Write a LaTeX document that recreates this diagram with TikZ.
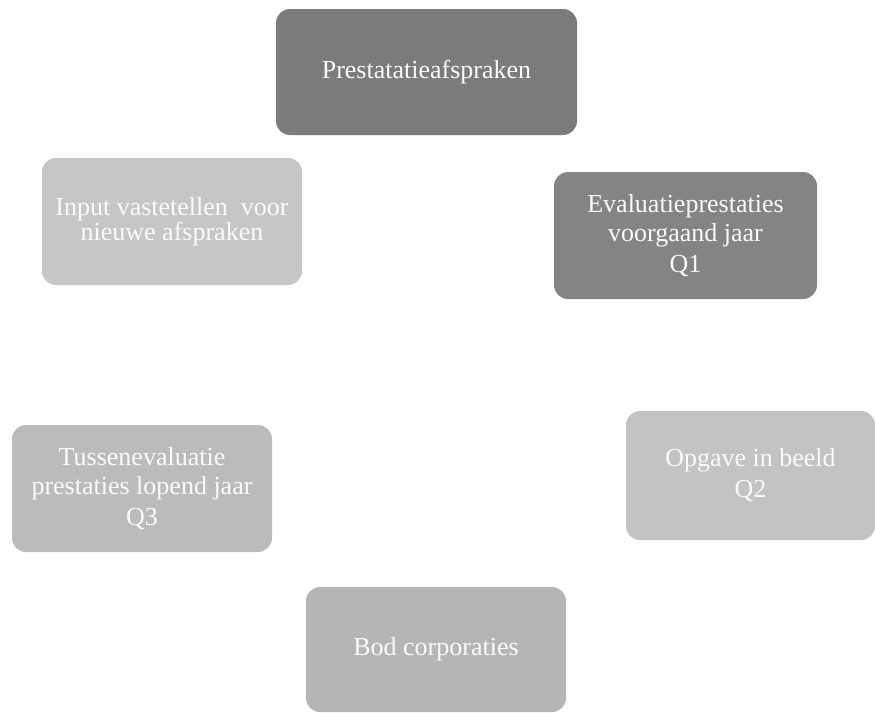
\documentclass[tikz,border=0pt]{standalone}
\usepackage{fontspec}
\setmainfont{Liberation Serif}
\definecolor{darkbox}{HTML}{7B7B7B}
\definecolor{darkboxb}{HTML}{848484}
\definecolor{lightbox}{HTML}{C6C6C6}
\definecolor{midbox}{HTML}{BBBBBB}
\definecolor{lightboxb}{HTML}{C3C3C3}
\definecolor{bodbox}{HTML}{B5B5B5}
\definecolor{boxtext}{HTML}{FAFAFA}
\begin{document}
\begin{tikzpicture}[x=1pt,y=1pt,
  card/.style={rectangle, rounded corners=14pt, inner sep=0pt, align=center,
    text=boxtext, font=\fontsize{26}{29}\selectfont}]
\useasboundingbox (0,0) rectangle (875,-712);
\fill[white] (0,0) rectangle (875,-712);
\node[card, fill=darkbox, minimum width=301pt, minimum height=126pt] (pa) at (426.5,-72) {Prestatatieafspraken};
\node[card, fill=lightbox, minimum width=260pt, minimum height=127pt, font=\fontsize{26}{22}\selectfont] (inp) at (172,-221.5) {Input vastetellen\ \ voor\\nieuwe afspraken};
\node[card, fill=darkboxb, minimum width=263pt, minimum height=127pt] (eval) at (685.5,-235.5) {Evaluatieprestaties\\voorgaand jaar\\[2pt]Q1};
\node[card, fill=midbox, minimum width=260pt, minimum height=127pt] (tus) at (142,-488.5) {Tussenevaluatie\\prestaties lopend jaar\\[2pt]Q3};
\node[card, fill=lightboxb, minimum width=249pt, minimum height=129pt] (opg) at (750.5,-475.5) {Opgave in beeld\\[2pt]Q2};
\node[card, fill=bodbox, minimum width=260pt, minimum height=125pt] (bod) at (436,-649.5) {Bod corporaties};
\end{tikzpicture}
\end{document}
